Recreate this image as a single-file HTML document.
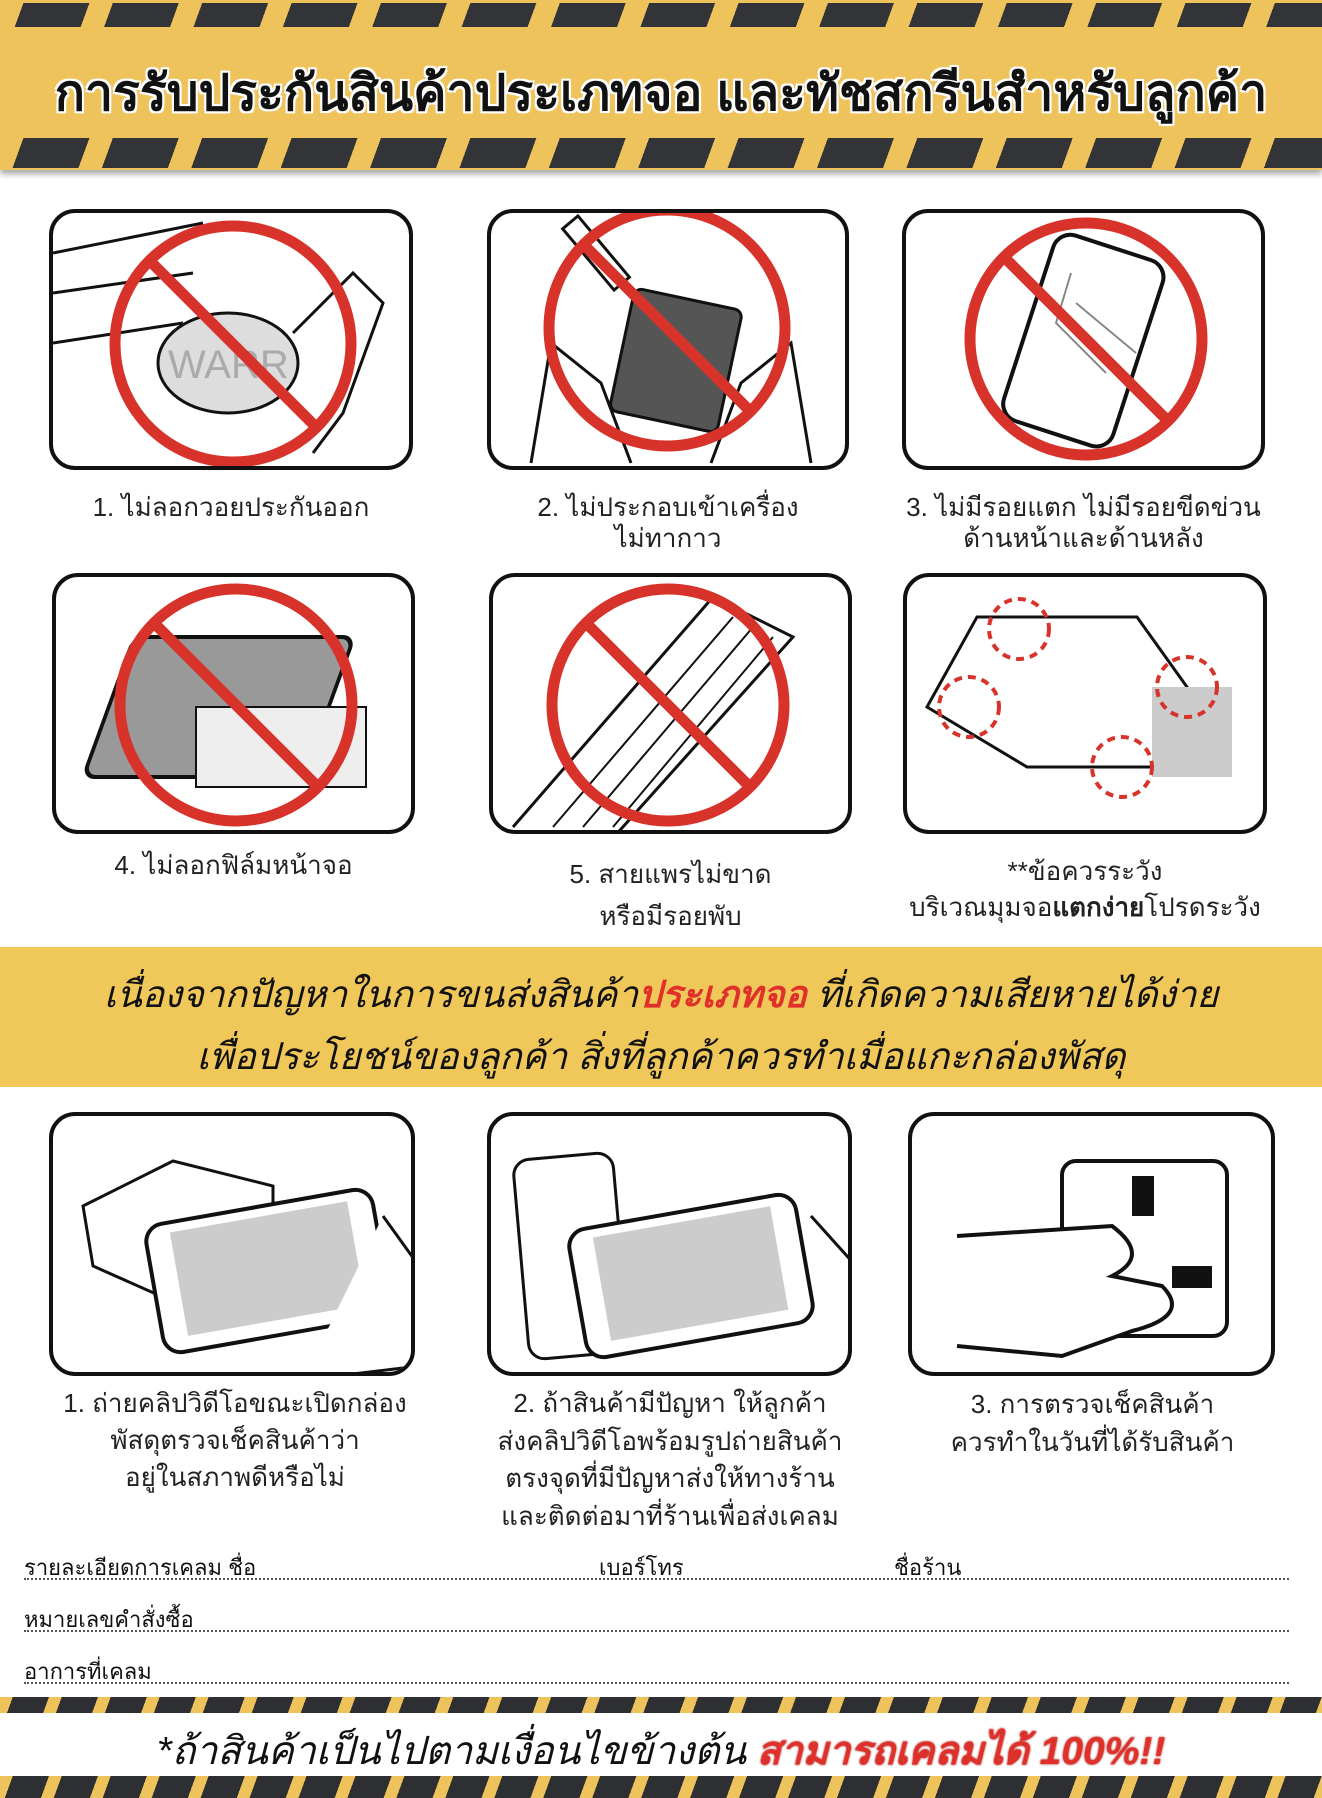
<!DOCTYPE html>
<html><head><meta charset="utf-8">
<style>
body{margin:0;width:1322px;height:1798px;position:relative;background:#fff;overflow:hidden;font-family:"Liberation Sans","Noto Sans CJK SC",sans-serif;}
.abs{position:absolute}
.hdr{left:0;top:0;width:1322px;height:170px;background:#efc35c;box-shadow:0 4px 6px rgba(0,0,0,.35)}
.st{position:absolute;left:0;width:1322px;background:repeating-linear-gradient(110deg,#efc35c 0 22px,#333438 22px 84px)}
.st2{position:absolute;left:0;width:1322px;background:repeating-linear-gradient(110deg,#efc35c 0 12px,#2e2f33 12px 46px)}
.title{left:0;width:1322px;top:54px;text-align:center;font-size:50px;font-weight:bold;color:#111;text-shadow:0 0 3px #fff,0 0 3px #fff,2px 2px 0 #fff,-2px -2px 0 #fff,2px -2px 0 #fff,-2px 2px 0 #fff}
.box{position:absolute;border:4px solid #111;border-radius:26px;box-sizing:border-box;overflow:hidden;background:#fff}
.cap{position:absolute;text-align:center;font-size:26px;color:#222;line-height:31px}
.band{left:0;top:947px;width:1322px;height:140px;background:#f0c859}
.bt{left:0;width:1322px;text-align:center;font-size:37px;font-style:italic;color:#111}
.form{left:24px;font-size:22px;color:#111;width:1265px;border-bottom:2px dotted #555;height:28px}
</style></head><body>
<div class="abs hdr"></div>
<div class="st" style="top:3px;height:24px"></div>
<div class="st" style="top:138px;height:30px"></div>
<div class="abs title">การรับประกันสินค้าประเภทจอ และทัชสกรีนสำหรับลูกค้า</div>

<!-- row 1 -->
<div class="box" style="left:49px;top:209px;width:364px;height:261px">
<svg width="364" height="261"><path d="M0 40 L150 10 M0 80 L140 60 M0 130 L130 110" stroke="#111" stroke-width="3" fill="none"/><ellipse cx="175" cy="150" rx="70" ry="50" fill="#ddd" stroke="#111" stroke-width="3"/><text x="115" y="165" font-size="40" fill="#aaa" font-family="Liberation Sans">WARR</text><path d="M240 120 L300 60 L330 90 L290 200 L260 240" stroke="#111" stroke-width="3" fill="none"/><circle cx="180" cy="131" r="118" fill="none" stroke="#d8332b" stroke-width="11"/><line x1="97" y1="48" x2="263" y2="214" stroke="#d8332b" stroke-width="11"/></svg></div>
<div class="box" style="left:487px;top:209px;width:362px;height:261px">
<svg width="362" height="261"><rect x="130" y="85" width="110" height="125" rx="8" fill="#555" stroke="#111" stroke-width="3" transform="rotate(12 185 147)"/><rect x="95" y="0" width="20" height="80" fill="#fff" stroke="#111" stroke-width="3" transform="rotate(-40 105 40)"/><path d="M40 250 L60 130 L110 170 L140 250 M320 250 L300 130 L250 170 L220 250" stroke="#111" stroke-width="3" fill="#fff"/><circle cx="176" cy="115" r="118" fill="none" stroke="#d8332b" stroke-width="11"/><line x1="93" y1="32" x2="259" y2="198" stroke="#d8332b" stroke-width="11"/></svg></div>
<div class="box" style="left:902px;top:209px;width:363px;height:261px">
<svg width="363" height="261"><rect x="120" y="30" width="115" height="195" rx="18" fill="#fff" stroke="#111" stroke-width="4" transform="rotate(18 177 127)"/><path d="M165 60 L150 110 L200 160 M170 90 L230 140" stroke="#888" stroke-width="2" fill="none"/><circle cx="180" cy="126" r="116" fill="none" stroke="#d8332b" stroke-width="11"/><line x1="98" y1="44" x2="262" y2="208" stroke="#d8332b" stroke-width="11"/></svg></div>
<div class="cap" style="left:49px;top:492px;width:364px">1. ไม่ลอกวอยประกันออก</div>
<div class="cap" style="left:487px;top:492px;width:362px">2. ไม่ประกอบเข้าเครื่อง<br>ไม่ทากาว</div>
<div class="cap" style="left:862px;top:492px;width:443px">3. ไม่มีรอยแตก ไม่มีรอยขีดข่วน<br>ด้านหน้าและด้านหลัง</div>

<!-- row 2 -->
<div class="box" style="left:52px;top:573px;width:363px;height:261px">
<svg width="363" height="261"><rect x="60" y="60" width="220" height="140" rx="12" fill="#999" stroke="#111" stroke-width="4" transform="skewX(-20) translate(40 0)"/><rect x="140" y="130" width="170" height="80" fill="#eee" stroke="#111" stroke-width="2"/><circle cx="180" cy="128" r="116" fill="none" stroke="#d8332b" stroke-width="11"/><line x1="98" y1="46" x2="262" y2="210" stroke="#d8332b" stroke-width="11"/></svg></div>
<div class="box" style="left:489px;top:573px;width:363px;height:261px">
<svg width="363" height="261"><path d="M20 250 L220 20 L300 60 L120 261" fill="#fff" stroke="#111" stroke-width="3"/><path d="M60 250 L240 40 M90 250 L260 50 M120 250 L280 60" stroke="#111" stroke-width="2"/><circle cx="175" cy="128" r="116" fill="none" stroke="#d8332b" stroke-width="11"/><line x1="93" y1="46" x2="257" y2="210" stroke="#d8332b" stroke-width="11"/></svg></div>
<div class="box" style="left:903px;top:573px;width:364px;height:261px">
<svg width="364" height="261"><path d="M70 40 L230 40 L280 110 L280 190 L120 190 L20 130 Z" fill="#fff" stroke="#111" stroke-width="3"/><rect x="245" y="110" width="80" height="90" fill="#ccc"/><g fill="none" stroke="#d8332b" stroke-width="4" stroke-dasharray="8 6"><circle cx="112" cy="52" r="30"/><circle cx="280" cy="110" r="30"/><circle cx="62" cy="130" r="30"/><circle cx="215" cy="190" r="30"/></g></svg></div>
<div class="cap" style="left:52px;top:850px;width:363px">4. ไม่ลอกฟิล์มหน้าจอ</div>
<div class="cap" style="left:489px;top:853px;width:363px;line-height:42px">5. สายแพรไม่ขาด<br>หรือมีรอยพับ</div>
<div class="cap" style="left:860px;top:853px;width:450px;line-height:36px">**ข้อควรระวัง<br>บริเวณมุมจอ<b>แตกง่าย</b>โปรดระวัง</div>

<!-- band -->
<div class="abs band"></div>
<div class="abs bt" style="top:965px">เนื่องจากปัญหาในการขนส่งสินค้า<b style="color:#e0302a">ประเภทจอ</b> ที่เกิดความเสียหายได้ง่าย</div>
<div class="abs bt" style="top:1027px">เพื่อประโยชน์ของลูกค้า สิ่งที่ลูกค้าควรทำเมื่อแกะกล่องพัสดุ</div>

<!-- row 3 -->
<div class="box" style="left:49px;top:1112px;width:366px;height:264px">
<svg width="366" height="264"><path d="M30 90 L120 45 L220 70 L220 150 L130 190 L40 150 Z" fill="#fff" stroke="#111" stroke-width="3"/><rect x="100" y="90" width="230" height="130" rx="18" fill="#fff" stroke="#111" stroke-width="4" transform="rotate(-10 215 155)"/><rect x="125" y="100" width="180" height="105" fill="#ccc" transform="rotate(-10 215 155)"/><path d="M330 100 L366 150 L366 250 L250 264" stroke="#111" stroke-width="3" fill="#fff"/></svg></div>
<div class="box" style="left:487px;top:1112px;width:365px;height:264px">
<svg width="365" height="264"><rect x="30" y="40" width="100" height="200" rx="16" fill="#fff" stroke="#111" stroke-width="3" transform="rotate(-5 80 140)"/><rect x="85" y="95" width="230" height="130" rx="18" fill="#fff" stroke="#111" stroke-width="4" transform="rotate(-10 200 160)"/><rect x="110" y="105" width="180" height="105" fill="#ccc" transform="rotate(-10 200 160)"/><path d="M320 100 L365 150 L365 250" stroke="#111" stroke-width="3" fill="none"/></svg></div>
<div class="box" style="left:908px;top:1112px;width:367px;height:264px">
<svg width="367" height="264"><rect x="150" y="45" width="165" height="175" rx="14" fill="#fff" stroke="#111" stroke-width="4"/><rect x="220" y="60" width="22" height="40" fill="#111"/><rect x="260" y="150" width="40" height="22" fill="#111"/><path d="M45 120 L200 110 Q240 140 200 160 L250 170 Q280 200 220 215 L150 240 L45 230" fill="#fff" stroke="#111" stroke-width="4"/></svg></div>
<div class="cap" style="left:20px;top:1385px;width:430px;line-height:37px">1. ถ่ายคลิปวิดีโอขณะเปิดกล่อง<br>พัสดุตรวจเช็คสินค้าว่า<br>อยู่ในสภาพดีหรือไม่</div>
<div class="cap" style="left:450px;top:1385px;width:440px;line-height:37.5px">2. ถ้าสินค้ามีปัญหา ให้ลูกค้า<br>ส่งคลิปวิดีโอพร้อมรูปถ่ายสินค้า<br>ตรงจุดที่มีปัญหาส่งให้ทางร้าน<br>และติดต่อมาที่ร้านเพื่อส่งเคลม</div>
<div class="cap" style="left:890px;top:1385px;width:405px;line-height:38px">3. การตรวจเช็คสินค้า<br>ควรทำในวันที่ได้รับสินค้า</div>

<!-- form -->
<div class="abs form" style="top:1550px">รายละเอียดการเคลม ชื่อ<span style="position:absolute;left:575px">เบอร์โทร</span><span style="position:absolute;left:870px">ชื่อร้าน</span></div>
<div class="abs form" style="top:1602px">หมายเลขคำสั่งซื้อ</div>
<div class="abs form" style="top:1654px">อาการที่เคลม</div>

<div class="st2" style="top:1697px;height:16px"></div>
<div class="abs" style="left:0;top:1720px;width:1322px;text-align:center;font-size:39px;font-style:italic;color:#111">*ถ้าสินค้าเป็นไปตามเงื่อนไขข้างต้น <b style="color:#e0302a;text-shadow:0 0 2px #900">สามารถเคลมได้ 100%!!</b></div>
<div class="st2" style="top:1776px;height:22px"></div>
</body></html>
